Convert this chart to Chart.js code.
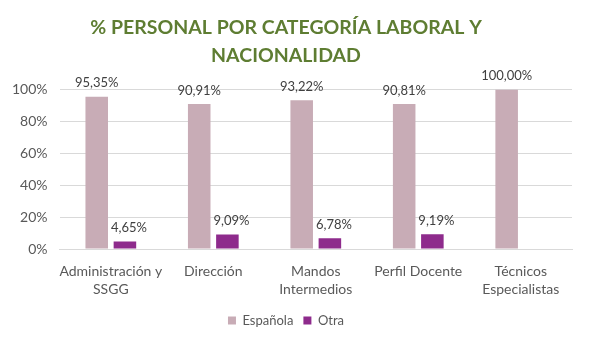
<!DOCTYPE html>
<html>
<head>
<meta charset="utf-8">
<script src="https://cdn.jsdelivr.net/npm/chart.js@4/dist/chart.umd.min.js"></script>
<style>
html,body{margin:0;padding:0;background:#fff;}
#wrap{width:591px;height:347px;}
</style>
</head>
<body>
<div id="wrap"><canvas id="c" width="591" height="347"></canvas></div>
<script>
const categories = [["Administración y","SSGG"],"Dirección",["Mandos","Intermedios"],"Perfil Docente",["Técnicos","Especialistas"]];
const espanola = [95.35, 90.91, 93.22, 90.81, 100.00];
const otra = [4.65, 9.09, 6.78, 9.19, null];
const yTicks = [0, 20, 40, 60, 80, 100];

const FONT = "Lato, 'Liberation Sans', sans-serif";

const labelPlugin = {
  id: 'valueLabels',
  afterDatasetsDraw(chart) {
    const ctx = chart.ctx;
    ctx.save();
    ctx.font = "13px " + FONT;
    ctx.fillStyle = '#404040';
    ctx.textAlign = 'center';
    ctx.textBaseline = 'bottom';
    chart.data.datasets.forEach((ds, di) => {
      const meta = chart.getDatasetMeta(di);
      meta.data.forEach((bar, i) => {
        const v = ds.data[i];
        if (v === null || v === undefined) return;
        const txt = v.toFixed(2).replace('.', ',') + '%';
        const dx = di === 1 ? 4 : 0;
        ctx.fillText(txt, bar.x + dx, bar.y - 7);
      });
    });
    ctx.restore();
  }
};

new Chart(document.getElementById('c'), {
  type: 'bar',
  data: {
    labels: categories,
    datasets: [
      { label: 'Española', data: espanola, backgroundColor: '#C8ACB6', barPercentage: 0.8, categoryPercentage: 0.55 },
      { label: 'Otra', data: otra, backgroundColor: '#8E2B8C', barPercentage: 0.8, categoryPercentage: 0.55 }
    ]
  },
  options: {
    responsive: false,
    animation: false,
    devicePixelRatio: 1,
    layout: { padding: { left: 0, right: 19, top: 0, bottom: 10 } },
    plugins: {
      title: {
        display: true,
        text: ['% PERSONAL POR CATEGORÍA LABORAL Y', 'NACIONALIDAD'],
        color: '#5E7D32',
        font: { family: FONT, size: 19.5, weight: 'bold', lineHeight: 1.42 },
        padding: { top: 14, bottom: 20 }
      },
      legend: {
        position: 'bottom',
        labels: {
          boxWidth: 8, boxHeight: 8, color: '#595959',
          font: { family: FONT, size: 13 }, padding: 10
        }
      },
      tooltip: { enabled: false }
    },
    scales: {
      x: {
        grid: { display: false },
        border: { color: '#D9D9D9' },
        ticks: { color: '#595959', font: { family: FONT, size: 14, lineHeight: 1.25 }, maxRotation: 0, autoSkip: false, padding: 6 }
      },
      y: {
        min: 0, max: 100,
        afterBuildTicks(scale) { scale.ticks = yTicks.map(v => ({ value: v })); },
        grid: { color: '#D9D9D9', drawTicks: false },
        border: { display: false },
        ticks: { color: '#595959', font: { family: FONT, size: 14 }, padding: 12, callback: v => v + '%' }
      }
    }
  },
  plugins: [labelPlugin]
});
</script>
</body>
</html>
